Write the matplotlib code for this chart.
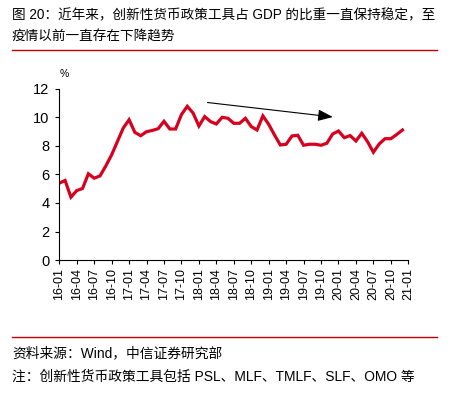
# -*- coding: UTF-8 -*-
import numpy as np
import matplotlib.pyplot as plt

plt.rcParams['font.family'] = ['Liberation Sans', 'Noto Sans CJK SC', 'DejaVu Sans']

# 月度数据 16-01 ~ 20-12，创新性货币政策工具/GDP (%)
ratio = [5.39, 5.58, 4.41, 4.87, 5.02, 6.05, 5.74, 5.90, 6.60, 7.38, 8.32, 9.26,
         9.84, 8.95, 8.72, 9.00, 9.09, 9.21, 9.73, 9.19, 9.19, 10.20, 10.78, 10.31,
         9.40, 10.06, 9.71, 9.54, 10.01, 9.94, 9.59, 9.59, 9.94, 9.36, 9.12, 10.11,
         9.52, 8.77, 8.07, 8.12, 8.70, 8.75, 8.05, 8.12, 8.12, 8.05, 8.19, 8.84,
         9.05, 8.58, 8.73, 8.35, 8.89, 8.30, 7.56, 8.14, 8.51, 8.51, 8.80, 9.12]
tick_labels = ['16-01', '16-04', '16-07', '16-10', '17-01', '17-04', '17-07', '17-10',
               '18-01', '18-04', '18-07', '18-10', '19-01', '19-04', '19-07', '19-10',
               '20-01', '20-04', '20-07', '20-10', '21-01']
arrow_start = (25.0, 11.07)
arrow_end = (47.5, 10.01)

fig = plt.figure(figsize=(4.54, 3.97), dpi=100)
ax = fig.add_axes([0.1306, 0.345, 0.7687, 0.431])

x = np.arange(len(ratio))
ax.plot(x, ratio, color='#D7001E', linewidth=2.3, solid_joinstyle='miter')

ax.annotate('', xy=arrow_end, xytext=arrow_start,
            arrowprops=dict(arrowstyle='-|>,head_length=0.9,head_width=0.35',
                            color='black', lw=0.8))

ax.set_xlim(0, 60)
ax.set_ylim(0, 12)
ax.set_xticks(np.arange(0, 61, 3))
ax.set_xticklabels(tick_labels, rotation=90, fontsize=9)
ax.set_yticks(range(0, 13, 2))
ax.tick_params(axis='y', labelsize=10.5, length=3, width=0.8, pad=4)
ax.tick_params(axis='x', length=3, width=0.8, pad=3)
for s in ['top', 'right']:
    ax.spines[s].set_visible(False)
for s in ['left', 'bottom']:
    ax.spines[s].set_linewidth(0.8)

fig.text(64 / 454, 1 - 74 / 397, '%', fontsize=7.5, ha='center', va='center')

# 标题
fig.text(12 / 454, 1 - 15 / 397, '图 20：近年来，创新性货币政策工具占 GDP 的比重一直保持稳定，至',
         fontsize=9.8, ha='left', va='center')
fig.text(12 / 454, 1 - 37 / 397, '疫情以前一直存在下降趋势',
         fontsize=9.8, ha='left', va='center')
fig.add_artist(plt.Line2D([12 / 454, 437 / 454], [1 - 50 / 397, 1 - 50 / 397],
                          color='#C00000', lw=1))

# 来源和注
fig.add_artist(plt.Line2D([12 / 454, 437 / 454], [1 - 337 / 397, 1 - 337 / 397],
                          color='#C00000', lw=1))
fig.text(12 / 454, 1 - 353 / 397, '资料来源：Wind，中信证券研究部',
         fontsize=9.9, ha='left', va='center')
fig.text(12 / 454, 1 - 377 / 397, '注：创新性货币政策工具包括 PSL、MLF、TMLF、SLF、OMO 等',
         fontsize=9.9, ha='left', va='center')

plt.savefig('out.png', dpi=100)
